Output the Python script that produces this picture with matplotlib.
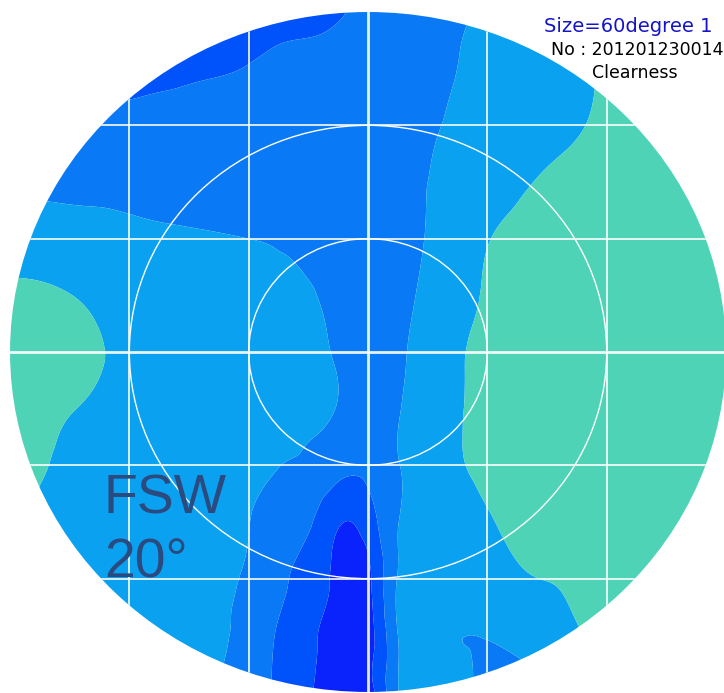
import numpy as np
import matplotlib
matplotlib.use('Agg')
import matplotlib.pyplot as plt
import matplotlib.tri as mtri
from matplotlib.patches import Circle

# Sky grid (degrees from zenith), X east-west, Y north-south
AZ_X = [-60, -50, -40, -30, -20, -15, -10, -5, 0, 5, 10, 20, 30, 40, 50, 60]
AZ_Y = [60, 50, 40, 30, 20, 10, 0, -10, -20, -30, -40, -50, -60]

# Clearness index, one row per AZ_Y value
CLEARNESS = [
    [1.3, 1.3, 1.3, 1.4, 1.5, 1.6, 1.7, 1.9, 2.3, 2.5, 2.7, 3.1, 3.5, 4.0, 4.4, 4.5],
    [1.3, 1.35, 1.5, 1.8, 2.05, 2.25, 2.3, 2.35, 2.45, 2.55, 2.7, 3.3, 3.6, 4.1, 4.5, 4.5],
    [2.3, 2.35, 2.4, 2.45, 2.5, 2.5, 2.5, 2.5, 2.55, 2.7, 2.9, 3.3, 3.65, 4.2, 4.5, 4.6],
    [2.85, 2.85, 2.8, 2.7, 2.6, 2.55, 2.5, 2.5, 2.6, 2.8, 3.0, 3.45, 4.15, 4.5, 4.6, 4.6],
    [3.5, 3.35, 3.2, 3.1, 3.0, 2.92, 2.7, 2.5, 2.5, 2.7, 3.05, 3.95, 4.5, 4.6, 4.6, 4.6],
    [4.2, 4.02, 3.55, 3.45, 3.35, 3.2, 3.1, 2.7, 2.55, 2.75, 3.2, 4.1, 4.6, 4.7, 4.7, 4.7],
    [4.6, 4.35, 3.75, 3.5, 3.4, 3.3, 3.2, 2.9, 2.6, 2.85, 3.35, 4.3, 4.7, 4.8, 4.8, 4.8],
    [4.6, 4.05, 3.7, 3.5, 3.4, 3.3, 3.2, 2.95, 2.6, 2.95, 3.4, 4.35, 4.7, 4.8, 4.8, 4.8],
    [4.5, 3.8, 3.5, 3.4, 3.3, 3.02, 2.85, 2.3, 2.3, 2.95, 3.5, 4.3, 4.7, 4.8, 4.8, 4.8],
    [4.1, 3.6, 3.5, 3.3, 3.02, 2.6, 2.15, 1.1, 1.5, 2.97, 3.3, 3.9, 4.4, 4.7, 4.8, 4.8],
    [3.8, 3.6, 3.5, 3.25, 2.9, 2.3, 1.5, 0.7, 0.75, 3.05, 3.4, 3.6, 4.02, 4.3, 4.6, 4.7],
    [3.8, 3.6, 3.45, 3.3, 2.65, 1.9, 1.2, 0.5, 0.6, 3.0, 3.5, 3.05, 3.5, 4.3, 4.5, 4.6],
    [3.8, 3.6, 3.4, 3.2, 2.6, 1.8, 1.1, 0.35, 0.55, 2.95, 3.85, 2.7, 2.9, 3.5, 4.0, 4.4],
]

LEVELS = [-10, 1, 2, 3, 4, 10]
COLORS = ['#0a22fb', '#0052fb', '#0a79f6', '#0aa2f0', '#4ed3b6']

RINGS = [20, 40]
GRID_LINES = [-40, -20, 0, 20, 40]
RADIUS = 60

fig = plt.figure(figsize=(7.24, 6.93), dpi=100)
ax = fig.add_axes([0, 0, 1, 1])
ax.set_xlim(-61.68, 59.66)
ax.set_ylim(-60.18, 62.12)
ax.axis('off')

xx, yy = np.meshgrid(AZ_X, AZ_Y)
triang = mtri.Triangulation(xx.ravel(), yy.ravel())
refiner = mtri.UniformTriRefiner(triang)
tri_fine, z_fine = refiner.refine_field(np.array(CLEARNESS).ravel(), subdiv=4)

sky = Circle((0, 0), RADIUS, transform=ax.transData)
cs = ax.tricontourf(tri_fine, z_fine, levels=LEVELS, colors=COLORS, antialiased=True)
cs.set_clip_path(sky)

# grid and rings
for g in GRID_LINES:
    lw = 2.0 if g == 0 else 1.3
    for ln in (ax.axvline(g, color='white', lw=lw, alpha=0.9),
               ax.axhline(g, color='white', lw=lw, alpha=0.9)):
        ln.set_clip_path(sky)
for r in RINGS:
    ax.add_patch(Circle((0, 0), r, fill=False, ec='white', lw=1.0))

fig.text(628 / 724, 1 - 26 / 693, 'Size=60degree 1', color='#1414c8',
         fontsize=14, ha='center', va='center')
fig.text(637 / 724, 1 - 50 / 693, 'No : 201201230014', color='black',
         fontsize=12.5, ha='center', va='center')
fig.text(635 / 724, 1 - 73 / 693, 'Clearness', color='black',
         fontsize=12.5, ha='center', va='center')

fig.text(104 / 724, 1 - 513 / 693, 'FSW', color='#2b4a80', fontsize=40,
         family='Liberation Sans', ha='left', va='baseline')
fig.text(104 / 724, 1 - 578 / 693, '20°', color='#2b4a80', fontsize=40,
         family='Liberation Sans', ha='left', va='baseline')

fig.savefig('out.png', dpi=100)
